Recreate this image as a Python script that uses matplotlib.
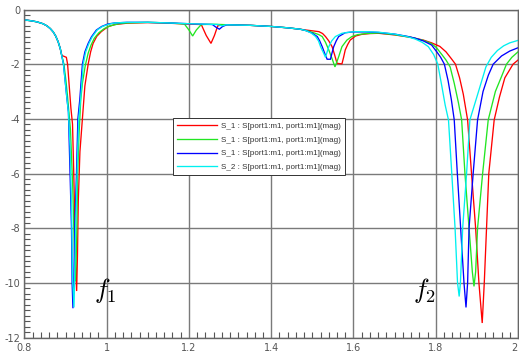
import matplotlib
matplotlib.use("Agg")
import matplotlib.pyplot as plt
from matplotlib.ticker import MultipleLocator, FixedLocator

plt.rcParams['mathtext.fontset'] = 'cm'

# ---------------- data ----------------
x_ticks = [0.8, 1.0, 1.2, 1.4, 1.6, 1.8, 2.0]
x_ticklabels = ["0.8", "1", "1.2", "1.4", "1.6", "1.8", "2"]
y_ticks = [0, -2, -4, -6, -8, -10, -12]
y_ticklabels = ["0", "-2", "-4", "-6", "-8", "-10", "-12"]

labels = ["S_1 : S[port1:m1, port1:m1](mag)",
          "S_1 : S[port1:m1, port1:m1](mag)",
          "S_1 : S[port1:m1, port1:m1](mag)",
          "S_2 : S[port1:m1, port1:m1](mag)"]

red_x = [0.800, 0.815, 0.830, 0.845, 0.855, 0.863, 0.870, 0.876, 0.882, 0.887, 0.891,
         0.902, 0.905, 0.909, 0.913, 0.917, 0.920, 0.923, 0.925, 0.927, 0.929, 0.931, 0.935,
         0.941, 0.947, 0.955, 0.961, 0.967, 0.976, 0.987, 1.003, 1.020, 1.050, 1.100, 1.150,
         1.190, 1.230, 1.242, 1.2536, 1.262, 1.270, 1.280, 1.300, 1.350, 1.400, 1.440, 1.470,
         1.484, 1.500, 1.516, 1.525, 1.532, 1.540, 1.548, 1.554, 1.560, 1.572, 1.576, 1.580,
         1.586, 1.592, 1.605, 1.620, 1.640, 1.661, 1.700, 1.740, 1.770, 1.790, 1.810, 1.825,
         1.838, 1.848, 1.858, 1.867, 1.8775, 1.887, 1.897, 1.905, 1.913, 1.918, 1.9235, 1.929,
         1.9421, 1.955, 1.968, 1.988, 2.000]
red_y = [-0.38, -0.41, -0.45, -0.52, -0.60, -0.70, -0.82, -0.97, -1.18, -1.42, -1.68,
         -1.75, -2.00, -2.80, -3.60, -4.20, -6.00, -8.00, -9.50, -10.30, -9.00, -7.00, -5.20,
         -4.00, -2.80, -2.00, -1.55, -1.24, -0.98, -0.81, -0.63, -0.55, -0.50, -0.48, -0.50,
         -0.53, -0.55, -0.95, -1.24, -0.95, -0.60, -0.56, -0.56, -0.58, -0.62, -0.67, -0.72,
         -0.75, -0.78, -0.81, -0.88, -0.99, -1.15, -1.36, -1.65, -1.97, -1.99, -1.75, -1.48,
         -1.28, -1.12, -0.97, -0.91, -0.88, -0.87, -0.93, -1.02, -1.12, -1.22, -1.35, -1.55,
         -1.80, -2.00, -2.50, -3.10, -4.04, -6.00, -8.00, -10.00, -11.47, -10.00, -8.00, -6.00,
         -4.04, -3.20, -2.50, -2.00, -1.85]

green_x = [0.800, 0.815, 0.830, 0.845, 0.855, 0.863, 0.870, 0.876, 0.882, 0.887, 0.891,
           0.896, 0.901, 0.905, 0.909, 0.912, 0.9175, 0.921, 0.924, 0.927, 0.9295, 0.933,
           0.937, 0.941, 0.948, 0.955, 0.962, 0.970, 0.981, 0.994, 1.008, 1.030, 1.050, 1.100,
           1.150, 1.189, 1.200, 1.209, 1.218, 1.230, 1.260, 1.300, 1.350, 1.400, 1.440, 1.470,
           1.490, 1.505, 1.516, 1.524, 1.532, 1.540, 1.548, 1.555, 1.560, 1.564, 1.572, 1.584,
           1.596, 1.610, 1.630, 1.661, 1.700, 1.740, 1.770, 1.790, 1.802, 1.815, 1.825, 1.835,
           1.845, 1.855, 1.863, 1.871, 1.881, 1.889, 1.893, 1.897, 1.9017, 1.914, 1.9276,
           1.945, 1.960, 1.972, 1.985, 2.000]
green_y = [-0.38, -0.41, -0.45, -0.52, -0.60, -0.70, -0.82, -0.97, -1.18, -1.42, -1.70,
           -2.00, -2.60, -3.20, -3.90, -4.40, -6.50, -8.50, -9.95, -8.50, -6.00, -4.50,
           -3.30, -2.70, -2.05, -1.60, -1.30, -1.05, -0.85, -0.70, -0.60, -0.52, -0.49, -0.47,
           -0.49, -0.53, -0.75, -0.97, -0.75, -0.55, -0.54, -0.56, -0.58, -0.62, -0.67, -0.72,
           -0.79, -0.86, -0.92, -0.99, -1.20, -1.48, -1.80, -2.10, -1.90, -1.73, -1.36, -1.12,
           -0.99, -0.92, -0.88, -0.86, -0.92, -1.02, -1.13, -1.25, -1.40, -1.65, -1.85, -2.10,
           -2.70, -3.40, -4.04, -6.00, -8.00, -9.60, -10.13, -9.60, -8.00, -6.00, -4.04,
           -3.00, -2.45, -2.00, -1.75, -1.55]

blue_x = [0.800, 0.815, 0.830, 0.845, 0.855, 0.863, 0.870, 0.876, 0.882, 0.887, 0.891,
          0.895, 0.899, 0.903, 0.907, 0.911, 0.9145, 0.916, 0.918, 0.920, 0.9225, 0.9266,
          0.930, 0.9346, 0.941, 0.947, 0.955, 0.963, 0.975, 0.988, 1.003, 1.020, 1.050, 1.100,
          1.150, 1.200, 1.257, 1.266, 1.274, 1.282, 1.292, 1.350, 1.400, 1.440, 1.470, 1.484,
          1.499, 1.512, 1.518, 1.524, 1.530, 1.536, 1.544, 1.548, 1.552, 1.558, 1.564, 1.580,
          1.600, 1.630, 1.661, 1.700, 1.730, 1.750, 1.770, 1.790, 1.805, 1.812, 1.821, 1.830,
          1.838, 1.845, 1.8525, 1.8606, 1.8687, 1.8736, 1.8775, 1.881, 1.891, 1.9017, 1.915,
          1.928, 1.9397, 1.960, 1.980, 2.000]
blue_y = [-0.38, -0.41, -0.45, -0.52, -0.60, -0.70, -0.82, -0.97, -1.18, -1.42, -1.70,
          -2.00, -2.60, -3.20, -3.75, -6.00, -8.00, -10.00, -10.93, -10.00, -8.00, -6.00,
          -4.00, -3.30, -2.00, -1.55, -1.24, -1.00, -0.75, -0.62, -0.53, -0.49, -0.47, -0.47,
          -0.49, -0.52, -0.55, -0.65, -0.72, -0.62, -0.56, -0.58, -0.62, -0.67, -0.72, -0.77,
          -0.86, -0.99, -1.15, -1.36, -1.60, -1.82, -1.82, -1.58, -1.36, -1.15, -0.99, -0.85,
          -0.82, -0.82, -0.84, -0.90, -0.98, -1.05, -1.15, -1.30, -1.60, -1.75, -2.00, -2.60,
          -3.30, -4.04, -6.00, -8.00, -10.00, -10.90, -10.00, -8.00, -6.00, -4.04, -3.00,
          -2.40, -2.00, -1.70, -1.52, -1.40]

cyan_x = [0.800, 0.815, 0.830, 0.845, 0.855, 0.863, 0.870, 0.876, 0.882, 0.887, 0.891,
          0.895, 0.899, 0.903, 0.907, 0.911, 0.915, 0.917, 0.9205, 0.922, 0.9245, 0.928,
          0.932, 0.9365, 0.943, 0.949, 0.957, 0.965, 0.977, 0.990, 1.005, 1.020, 1.050, 1.100,
          1.150, 1.200, 1.270, 1.280, 1.290, 1.350, 1.400, 1.440, 1.470, 1.484, 1.497, 1.508,
          1.515, 1.520, 1.526, 1.532, 1.536, 1.540, 1.547, 1.556, 1.572, 1.590, 1.605, 1.630,
          1.661, 1.700, 1.730, 1.750, 1.767, 1.782, 1.795, 1.805, 1.815, 1.823, 1.831, 1.839,
          1.847, 1.853, 1.857, 1.860, 1.8655, 1.875, 1.883, 1.900, 1.912, 1.922, 1.935, 1.950,
          1.965, 1.980, 2.000]
cyan_y = [-0.38, -0.41, -0.45, -0.52, -0.60, -0.70, -0.82, -0.97, -1.18, -1.42, -1.70,
          -2.00, -2.60, -3.20, -3.75, -5.00, -7.50, -9.80, -10.90, -10.00, -8.00, -6.00,
          -4.00, -3.30, -2.00, -1.55, -1.24, -1.00, -0.75, -0.62, -0.54, -0.49, -0.47, -0.47,
          -0.49, -0.52, -0.55, -0.60, -0.56, -0.58, -0.62, -0.67, -0.72, -0.77, -0.86, -0.99,
          -1.15, -1.36, -1.55, -1.75, -1.55, -1.36, -1.15, -0.99, -0.87, -0.83, -0.81, -0.81,
          -0.83, -0.90, -0.99, -1.08, -1.20, -1.36, -1.65, -2.00, -2.82, -3.50, -4.04, -6.00,
          -8.00, -10.00, -10.50, -10.00, -8.00, -6.00, -4.04, -3.20, -2.60, -2.10, -1.75, -1.50,
          -1.33, -1.22, -1.13]

series = [(red_x, red_y, '#ff0000'),
          (green_x, green_y, '#22e622'),
          (blue_x, blue_y, '#0000ff'),
          (cyan_x, cyan_y, '#00f0f0')]

# ---------------- figure ----------------
fig = plt.figure(figsize=(5.19, 3.55), dpi=100)
ax = fig.add_axes([24.4 / 519, 1 - 337.5 / 355, (518 - 24.4) / 519, (337.5 - 9.5) / 355])

for (xs, ys, c), lab in zip(series, labels):
    ax.plot(xs, ys, color=c, lw=0.95, label=lab, solid_joinstyle='miter')

ax.set_xlim(0.8, 2.0)
ax.set_ylim(-12, 0)

ax.xaxis.set_major_locator(FixedLocator(x_ticks))
ax.set_xticklabels(x_ticklabels)
ax.yaxis.set_major_locator(FixedLocator(y_ticks))
ax.set_yticklabels(y_ticklabels)
ax.xaxis.set_minor_locator(MultipleLocator(0.02))
ax.yaxis.set_minor_locator(MultipleLocator(0.2))

ax.tick_params(which='both', direction='in', top=False, right=False,
               colors='#555555', labelcolor='#555555', labelsize=7)
ax.tick_params(axis='x', which='major', pad=4)
ax.tick_params(axis='y', which='major', pad=3)
ax.tick_params(which='major', length=0)
ax.tick_params(which='minor', length=4, width=0.8)
ax.get_xticklabels()[-1].set_ha('right')

ax.grid(True, which='major', color='#7a7a7a', lw=1.0)
ax.set_axisbelow(True)
for s in ax.spines.values():
    s.set_color('#666666')
    s.set_linewidth(1.0)

leg = ax.legend(loc='upper left', bbox_to_anchor=(0.301, 0.668),
                prop={'family': 'Liberation Sans', 'size': 5.8},
                handlelength=5.0, handletextpad=0.5, labelspacing=0.75,
                borderpad=0.5, fancybox=False, framealpha=1, edgecolor='#333333',
                borderaxespad=0)
leg.get_frame().set_linewidth(0.7)
for t in leg.get_texts():
    t.set_color('#333333')

ax.text(0.968, -10.55, r'$f_1$', fontsize=19, color='black', ha='left', va='baseline')
ax.text(1.745, -10.55, r'$f_2$', fontsize=19, color='black', ha='left', va='baseline')

fig.savefig('out.png', dpi=100)
